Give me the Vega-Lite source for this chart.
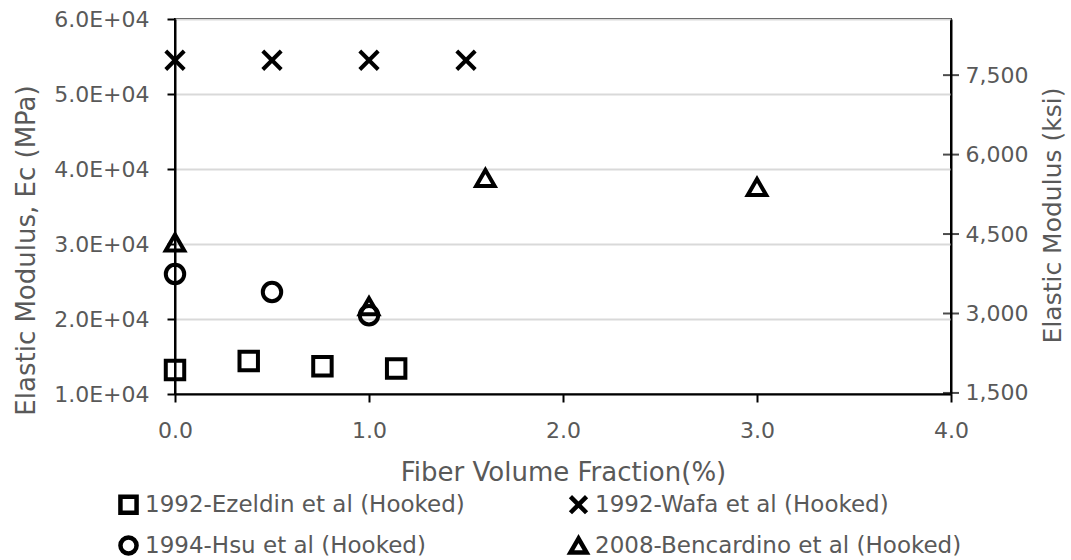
{
  "$schema": "https://vega.github.io/schema/vega-lite/v6.json",
  "autosize": {"type": "none"},
  "width": 776,
  "height": 375,
  "padding": {"left": 175, "top": 19, "right": 120, "bottom": 166},
  "background": "white",
  "config": {
    "font": "DejaVu Sans",
    "view": {"stroke": "#000000", "strokeWidth": 2}
  },
  "data": {
    "values": [
      {"series": "1992-Ezeldin et al (Hooked)", "vf": 0.0, "E": 13200},
      {"series": "1992-Ezeldin et al (Hooked)", "vf": 0.38, "E": 14400},
      {"series": "1992-Ezeldin et al (Hooked)", "vf": 0.76, "E": 13700},
      {"series": "1992-Ezeldin et al (Hooked)", "vf": 1.14, "E": 13400},
      {"series": "1992-Wafa et al (Hooked)", "vf": 0.0, "E": 54500},
      {"series": "1992-Wafa et al (Hooked)", "vf": 0.5, "E": 54500},
      {"series": "1992-Wafa et al (Hooked)", "vf": 1.0, "E": 54500},
      {"series": "1992-Wafa et al (Hooked)", "vf": 1.5, "E": 54500},
      {"series": "1994-Hsu et al (Hooked)", "vf": 0.0, "E": 26000},
      {"series": "1994-Hsu et al (Hooked)", "vf": 0.5, "E": 23600},
      {"series": "1994-Hsu et al (Hooked)", "vf": 1.0, "E": 20500},
      {"series": "2008-Bencardino et al (Hooked)", "vf": 0.0, "E": 30200},
      {"series": "2008-Bencardino et al (Hooked)", "vf": 1.0, "E": 21700},
      {"series": "2008-Bencardino et al (Hooked)", "vf": 1.6, "E": 38800},
      {"series": "2008-Bencardino et al (Hooked)", "vf": 3.0, "E": 37600}
    ]
  },
  "layer": [
    {
      "mark": {"type": "point", "filled": false, "stroke": "#000000", "strokeWidth": 4, "opacity": 1, "size": 340},
      "encoding": {
        "x": {
          "field": "vf",
          "type": "quantitative",
          "scale": {"domain": [0, 4], "nice": false, "zero": false},
          "axis": {
            "title": "Fiber Volume Fraction(%)",
            "values": [0, 1, 2, 3, 4],
            "format": ".1f",
            "grid": false,
            "labelFlush": false,
            "labelFont": "DejaVu Sans",
            "labelFontSize": 22,
            "labelColor": "#595959",
            "titleFont": "DejaVu Sans",
            "titleFontSize": 26,
            "titleFontWeight": "normal",
            "titleColor": "#595959",
            "domainColor": "#000000",
            "domainWidth": 2,
            "tickColor": "#000000",
            "tickWidth": 2,
            "tickSize": 8,
            "labelPadding": 18,
            "titlePadding": 18
          }
        },
        "y": {
          "field": "E",
          "type": "quantitative",
          "scale": {"domain": [10000, 60000], "nice": false, "zero": false},
          "axis": {
            "title": "Elastic Modulus, Ec (MPa)",
            "values": [10000, 20000, 30000, 40000, 50000, 60000],
            "labelExpr": "format(datum.value / 10000, '.1f') + 'E+04'",
            "labelFlush": false,
            "grid": true,
            "gridColor": "#d9d9d9",
            "gridWidth": 2,
            "labelFont": "DejaVu Sans",
            "labelFontSize": 22,
            "labelColor": "#595959",
            "titleFont": "DejaVu Sans",
            "titleFontSize": 26,
            "titleFontWeight": "normal",
            "titleColor": "#595959",
            "titleY": 231,
            "domainColor": "#000000",
            "domainWidth": 2,
            "tickColor": "#000000",
            "tickWidth": 2,
            "tickSize": 8,
            "labelPadding": 18,
            "titlePadding": 14
          }
        },
        "shape": {
          "field": "series",
          "type": "nominal",
          "scale": {
            "domain": [
              "1992-Ezeldin et al (Hooked)",
              "1992-Wafa et al (Hooked)",
              "1994-Hsu et al (Hooked)",
              "2008-Bencardino et al (Hooked)"
            ],
            "range": ["square", "M-1,-1L1,1M1,-1L-1,1", "circle", "triangle-up"]
          },
          "legend": {
            "title": null,
            "orient": "none",
            "legendX": -58,
            "legendY": 474,
            "direction": "horizontal",
            "columns": 2,
            "columnPadding": 96,
            "rowPadding": 6,
            "symbolSize": 260,
            "symbolStrokeWidth": 4.5,
            "symbolStrokeColor": "#000000",
            "symbolFillColor": "transparent",
            "labelOffset": 5,
            "labelLimit": 0,
            "labelFont": "DejaVu Sans",
            "labelFontSize": 23,
            "labelColor": "#595959"
          }
        }
      }
    },
    {
      "data": {"values": [{"ksi": 1500}, {"ksi": 3000}, {"ksi": 4500}, {"ksi": 6000}, {"ksi": 7500}]},
      "mark": {"type": "tick", "orient": "horizontal", "size": 16, "thickness": 2, "color": "#000000"},
      "encoding": {
        "x": {"datum": 4},
        "y": {
          "field": "ksi",
          "type": "quantitative",
          "scale": {"domain": [1480, 8560], "nice": false, "zero": false},
          "axis": {
            "orient": "right",
            "title": "Elastic Modulus (ksi)",
            "values": [1500, 3000, 4500, 6000, 7500],
            "format": ",.0f",
            "labelFlush": false,
            "grid": false,
            "ticks": false,
            "tickSize": 0,
            "domain": true,
            "domainColor": "#000000",
            "domainWidth": 2,
            "labelFont": "DejaVu Sans",
            "labelFontSize": 22,
            "labelColor": "#595959",
            "titleFont": "DejaVu Sans",
            "titleFontSize": 25,
            "titleFontWeight": "normal",
            "titleColor": "#595959",
            "titleX": 101,
            "titleY": 196,
            "titleBaseline": "middle",
            "labelPadding": 14,
            "titleAngle": 270
          }
        }
      }
    }
  ],
  "resolve": {"scale": {"y": "independent"}}
}
